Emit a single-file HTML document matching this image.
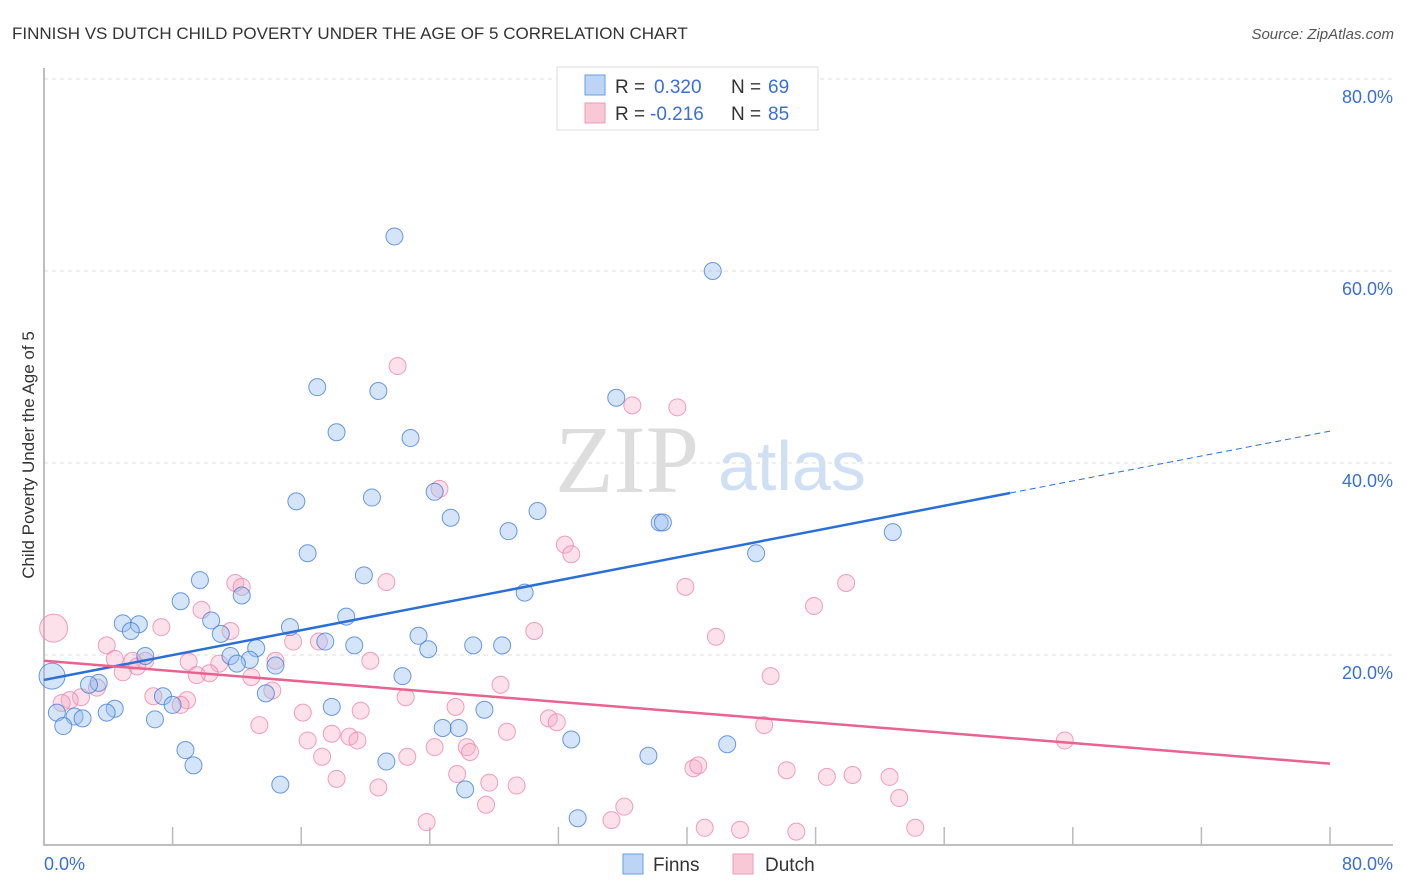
<!DOCTYPE html>
<html><head><meta charset="utf-8"><style>
body{margin:0;background:#fff;font-family:"Liberation Sans",sans-serif;}
svg{display:block}
</style></head><body>
<svg width="1406" height="892" xmlns="http://www.w3.org/2000/svg">
<text x="12" y="39" font-size="17" fill="#333">FINNISH VS DUTCH CHILD POVERTY UNDER THE AGE OF 5 CORRELATION CHART</text>
<text x="1394" y="39" font-size="15" fill="#555" font-style="italic" text-anchor="end">Source: ZipAtlas.com</text>
<text x="555" y="492" font-size="96" fill="#ddd" font-family="Liberation Serif,serif">ZIP</text>
<text x="718" y="490" font-size="70" fill="#cfe0f5">atlas</text>
<g id="grid"></g>
<g id="pts"></g>
<g id="lines"></g>
<text transform="translate(34,455) rotate(-90)" font-size="17" fill="#333" text-anchor="middle">Child Poverty Under the Age of 5</text>
<text x="44" y="870" font-size="18" fill="#3a6fd8">0.0%</text>
<text x="1393" y="870" font-size="18" fill="#3a6fd8" text-anchor="end">80.0%</text>
<g>
<rect x="557" y="67" width="261" height="63" fill="#fff" stroke="#ddd"/>
<rect x="585" y="75" width="20" height="20" fill="#bcd5f5" stroke="#6a9ee6"/>
<rect x="585" y="103" width="20" height="20" fill="#f9c8d6" stroke="#ec9ab3"/>
<text x="615" y="93" font-size="19" fill="#333">R =</text><text x="654" y="93" font-size="19" fill="#3a6fd8">0.320</text>
<text x="731" y="93" font-size="19" fill="#333">N =</text><text x="768" y="93" font-size="19" fill="#3a6fd8">69</text>
<text x="615" y="120" font-size="19" fill="#333">R =</text><text x="650" y="120" font-size="19" fill="#3a6fd8">-0.216</text>
<text x="731" y="120" font-size="19" fill="#333">N =</text><text x="768" y="120" font-size="19" fill="#3a6fd8">85</text>
</g>
<g>
<rect x="623" y="854" width="20" height="20" fill="#bcd5f5" stroke="#6a9ee6"/>
<text x="653" y="871" font-size="19" fill="#333">Finns</text>
<rect x="733" y="854" width="20" height="20" fill="#f9c8d6" stroke="#ec9ab3"/>
<text x="765" y="871" font-size="19" fill="#333">Dutch</text>
</g>
</svg>
<script>
const yTicks=[20,40,60,80];
const yTickLabels=["20.0%","40.0%","60.0%","80.0%"];
const finnsX=[21.8,41.6,17,20.8,35.6,18.2,22.8,24.3,15.7,20.4,25.3,30.7,28.9,38.3,38.5,52.8,16.4,44.3,19.9,9.7,29.9,12.3,8.5,18.8,4.9,5.9,5.4,10.4,15.3,11,23.3,17.5,26.7,28.5,23.9,19.3,13.2,11.6,6.3,12.8,12,14.4,22.3,3.4,2.8,13.8,7.4,8,17.9,27.4,0.8,4.4,3.9,1.9,2.4,1.2,6.9,24.8,25.8,32.8,8.8,42.5,37.6,9.3,21.3,14.7,26.2,33.2,0.5];
const finnsY=[63.6,60,47.9,47.5,46.8,43.2,42.6,37,36,36.4,34.3,35,32.9,33.8,33.8,32.8,30.6,30.6,28.3,27.8,26.5,26.2,25.6,24,23.3,23.2,22.5,23.6,22.9,22.2,22,21.4,21,21,20.6,21,20.7,19.9,19.9,19.5,19.1,18.9,17.8,17.1,16.9,16,15.7,14.8,14.6,14.3,14,14.4,14,13.6,13.4,12.6,13.3,12.4,12.4,11.2,10.1,10.7,9.5,8.5,8.9,6.5,6,3,17.8];
const dutchX=[22,36.6,39.4,24.6,32.4,32.8,21.3,11.9,12.3,39.9,49.9,47.9,9.8,7.3,11.6,30.5,41.8,15.5,3.9,17.1,6.3,4.4,5.5,9,10.9,20.3,14.4,5.8,4.9,10.3,9.5,12.9,45.2,3.3,14.2,6.8,2.3,8.9,22.5,28.4,1.6,1.1,8.5,16.1,25.6,19.7,31.4,31.9,13.4,44.8,17.9,28.8,19,19.5,16.4,24.3,26.3,26.5,22.6,17.3,63.5,25.7,18.2,27.7,29.4,46.2,40.4,40.7,48.7,50.3,52.6,20.8,27.5,53.2,36.1,35.3,23.8,41.1,43.3,46.8,54.2,0.6];
const dutchY=[50.1,46,45.8,37.3,31.5,30.5,27.6,27.5,27.1,27.1,27.5,25.1,24.7,22.9,22.5,22.5,21.9,21.4,21,21.4,19.4,19.6,19.4,19.3,19.1,19.4,19.4,18.8,18.2,18.1,17.9,17.7,17.8,16.6,16.3,15.7,15.6,15.3,15.6,16.9,15.3,15,14.8,14,14.6,14.2,13.4,13,12.7,12.7,11.8,12,11.5,11.1,11.1,10.4,10.4,9.9,9.4,9.4,11.1,7.6,7.1,6.7,6.4,8,8.2,8.5,7.3,7.5,7.3,6.2,4.4,5.1,4.2,2.8,2.6,2,1.8,1.6,2,22.8];
const bigFinn=68, bigDutch=81;
const finnsFit=[17.4,0.324];
const dutchFit=[19.4,-0.134];
const NS='http://www.w3.org/2000/svg';
const X=v=>44+v*16.075, Y=v=>847-v*9.6;
function mk(t,a,p){const e=document.createElementNS(NS,t);for(const k in a)e.setAttribute(k,a[k]);p.appendChild(e);return e;}
const g=document.getElementById('grid');
yTicks.forEach((t,i)=>{
 const l=mk('line',{x1:44,x2:1393,y1:Y(t),y2:Y(t),stroke:'#ddd','stroke-dasharray':'4,4'},g);
 
 
 const tx=mk('text',{x:1393,y:Y(t)+24,'font-size':18,fill:'#3a6fd8','text-anchor':'end'},g);
 tx.textContent=yTickLabels[i];
 
 
});
const ax=mk('path',{d:'M44,68V845H1393',fill:'none',stroke:'#aaa','stroke-width':1.5},g);


for(let i=1;i<=10;i++){const t=mk('line',{x1:X(i*8),x2:X(i*8),y1:827,y2:845,stroke:'#bbb','stroke-width':1.5},g);
 
 }
const p=document.getElementById('pts');
dutchX.forEach((x,i)=>{const c=mk('circle',{cx:X(x),cy:Y(dutchY[i]),r:i==bigDutch?14:8.5,fill:'rgba(246,170,195,0.35)',stroke:'rgba(236,130,165,0.75)','stroke-width':1},p);
 
 });
finnsX.forEach((x,i)=>{const c=mk('circle',{cx:X(x),cy:Y(finnsY[i]),r:i==bigFinn?13:8.5,fill:'rgba(150,190,240,0.4)',stroke:'rgba(60,120,215,0.75)','stroke-width':1},p);
 
 });
const L=document.getElementById('lines');
const f=x=>finnsFit[0]+finnsFit[1]*x, d=x=>dutchFit[0]+dutchFit[1]*x;
let a=mk('line',{x1:X(0),y1:Y(f(0)),x2:X(60.1),y2:Y(f(60.1)),stroke:'#2a6fd6','stroke-width':2.5},L);


a=mk('line',{x1:X(60.1),y1:Y(f(60.1)),x2:X(80),y2:Y(f(80)),stroke:'#2a6fd6','stroke-width':1,'stroke-dasharray':'6,4'},L);


a=mk('line',{x1:X(0),y1:Y(d(0)),x2:X(80),y2:Y(d(80)),stroke:'#e8638f','stroke-width':2.5},L);


</script>
</body></html>
